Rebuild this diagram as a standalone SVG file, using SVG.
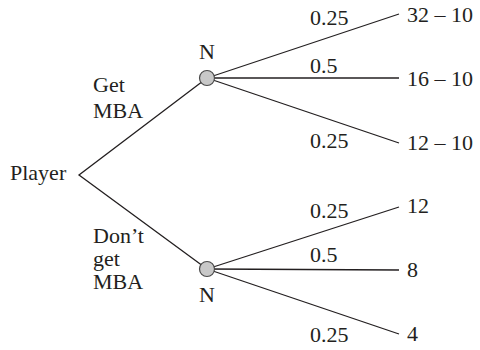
<svg xmlns="http://www.w3.org/2000/svg" width="480" height="350" viewBox="0 0 480 350">
  <style>
    text { font-family: "Liberation Serif", "Times New Roman", Times, "DejaVu Serif", serif; font-size: 22px; fill: #231f20; }
    .edge { stroke: #231f20; stroke-width: 1.3; fill: none; }
    .chance { fill: #c8c8c8; stroke: #4a4a4a; stroke-width: 1.2; }
  </style>
  <rect width="480" height="350" fill="#ffffff"/>

  <!-- branches of the game tree -->
  <g id="connectors">
    <polyline class="edge" points="207,78 79,175 207,269"/>
    <line class="edge" x1="207" y1="78" x2="399" y2="14"/>
    <line class="edge" x1="207" y1="78" x2="399" y2="78"/>
    <line class="edge" x1="207" y1="78" x2="399" y2="143"/>
    <line class="edge" x1="207" y1="269" x2="399" y2="207"/>
    <line class="edge" x1="207" y1="269" x2="399" y2="270"/>
    <line class="edge" x1="207" y1="269" x2="399" y2="334"/>
  </g>

  <g font-family="'Liberation Serif', 'Times New Roman', serif" font-size="22">
    <!-- decision node -->
    <g id="player">
      <text x="10" y="180">Player</text>
    </g>

    <!-- action labels -->
    <g id="get-mba-label">
      <text x="93" y="92">Get</text>
      <text x="93" y="118">MBA</text>
    </g>
    <g id="no-mba-label">
      <text x="93" y="243">Don’t</text>
      <text x="93" y="266">get</text>
      <text x="93" y="289">MBA</text>
    </g>

    <!-- chance nodes -->
    <g id="nature-upper">
      <circle class="chance" cx="207" cy="78" r="7.5"/>
      <text x="199" y="59">N</text>
    </g>
    <g id="nature-lower">
      <circle class="chance" cx="207" cy="269" r="7.5"/>
      <text x="199" y="302">N</text>
    </g>

    <!-- probabilities -->
    <g id="probabilities">
      <text x="310" y="25">0.25</text>
      <text x="310" y="73">0.5</text>
      <text x="310" y="148">0.25</text>
      <text x="310" y="218">0.25</text>
      <text x="310" y="262">0.5</text>
      <text x="310" y="342">0.25</text>
    </g>

    <!-- payoffs -->
    <g id="payoff-1"><text x="407" y="22">32 – 10</text></g>
    <g id="payoff-2"><text x="407" y="86">16 – 10</text></g>
    <g id="payoff-3"><text x="407" y="150">12 – 10</text></g>
    <g id="payoff-4"><text x="407" y="213">12</text></g>
    <g id="payoff-5"><text x="407" y="277">8</text></g>
    <g id="payoff-6"><text x="407" y="341">4</text></g>
  </g>
</svg>
